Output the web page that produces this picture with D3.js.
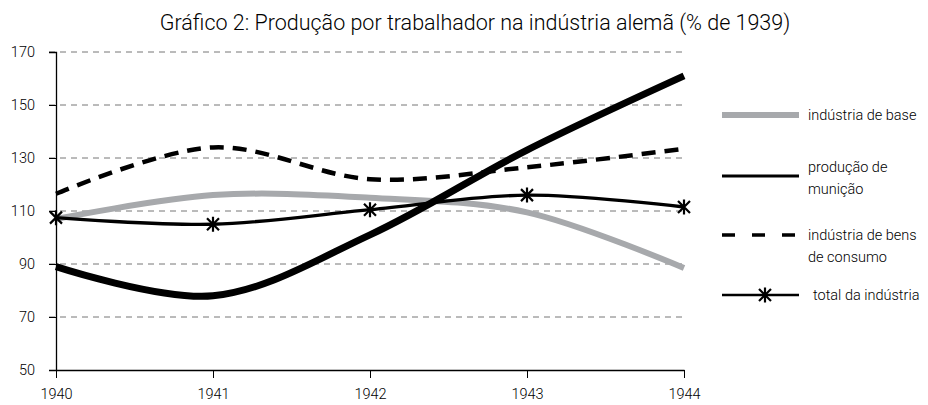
<!DOCTYPE html>
<html>
<head>
<meta charset="utf-8">
<script src="https://cdn.jsdelivr.net/npm/d3@7"></script>
<style>
  body { margin: 0; background: #fff; }
  text { font-family: Roboto, "Liberation Sans", sans-serif; font-weight: 300; fill: #000; }
</style>
</head>
<body>
<div id="chart"></div>
<script>
// data
const years = [1940, 1941, 1942, 1943, 1944];
const industriaBase = [107, 116, 115, 109.5, 88.5];
const producaoMunicao = [89, 78, 101, 133, 161];
const bensConsumo = [116.5, 134, 122, 126.5, 133.5];
const totalIndustria = [107.5, 105, 110.5, 116, 111.5];
const yTicks = [50, 70, 90, 110, 130, 150, 170];
const title = 'Gráfico 2: Produção por trabalhador na indústria alemã (% de 1939)';

const width = 928, height = 405;
const margin = {top: 52, right: 244, bottom: 35, left: 56};

const svg = d3.select('#chart').append('svg')
  .attr('width', width)
  .attr('height', height);

const x = d3.scaleLinear().domain([1940, 1944]).range([margin.left, width - margin.right]);
const y = d3.scaleLinear().domain([50, 170]).range([height - margin.bottom, margin.top]);

svg.append('text')
  .attr('x', 475)
  .attr('y', 30)
  .attr('text-anchor', 'middle')
  .style('font-size', '21.5px')
  .text(title);

// dashed grid lines
svg.append('g')
  .selectAll('line')
  .data(yTicks.filter(d => d > 50))
  .enter().append('line')
  .attr('x1', margin.left - 7)
  .attr('x2', x(1944))
  .attr('y1', d => y(d))
  .attr('y2', d => y(d))
  .attr('stroke', '#777')
  .attr('stroke-width', 1)
  .attr('stroke-dasharray', '6,5');

// y axis
const yAxis = svg.append('g')
  .attr('transform', `translate(${margin.left},0)`)
  .call(d3.axisLeft(y).tickValues(yTicks).tickSize(7).tickPadding(14));
yAxis.select('.domain').attr('stroke', '#000').attr('stroke-width', 1.3);
yAxis.selectAll('.tick line').attr('stroke', '#000');
yAxis.selectAll('text').style('font-size', '14.5px').attr('fill', '#000');

// x axis
const xAxis = svg.append('g')
  .attr('transform', `translate(0,${y(50)})`)
  .call(d3.axisBottom(x).tickValues(years).tickFormat(d3.format('d')).tickSize(8).tickPadding(11).tickSizeOuter(0));
xAxis.select('.domain').attr('stroke', '#000').attr('stroke-width', 1.3);
xAxis.selectAll('.tick line').attr('stroke', '#000');
xAxis.selectAll('text').style('font-size', '14.5px').attr('fill', '#000');

const line = d3.line()
  .x((d, i) => x(years[i]))
  .y(d => y(d))
  .curve(d3.curveCatmullRom.alpha(0.5));

const series = [
  {name: 'indústria de base', values: industriaBase, color: '#a7a9ac', width: 6, dash: null},
  {name: 'bens de consumo', values: bensConsumo, color: '#000', width: 4.5, dash: '14,9'},
  {name: 'produção de munição', values: producaoMunicao, color: '#000', width: 7, dash: null},
  {name: 'total da indústria', values: totalIndustria, color: '#000', width: 3.4, dash: null}
];

svg.append('g')
  .selectAll('path')
  .data(series)
  .enter().append('path')
  .attr('d', d => line(d.values))
  .attr('fill', 'none')
  .attr('stroke', d => d.color)
  .attr('stroke-width', d => d.width)
  .attr('stroke-dasharray', d => d.dash);

const star = 'M-6,-6L6,6M-6,6L6,-6M0,-7.5L0,7.5';

svg.append('g')
  .selectAll('path')
  .data(totalIndustria)
  .enter().append('path')
  .attr('d', star)
  .attr('transform', (d, i) => `translate(${x(years[i])},${y(d)})`)
  .attr('fill', 'none')
  .attr('stroke', '#000')
  .attr('stroke-width', 2.2);

// legend
const legend = [
  {lines: ['indústria de base'], ly: 115, color: '#a7a9ac', width: 6, dash: null, ty: 115},
  {lines: ['produção de', 'munição'], ly: 176, color: '#000', width: 3, dash: null, ty: 167},
  {lines: ['indústria de bens', 'de consumo'], ly: 235, color: '#000', width: 3.5, dash: '13,17', ty: 235},
  {lines: ['total da indústria'], ly: 295, color: '#000', width: 2.5, dash: null, ty: 295, marker: true}
];

const lg = svg.append('g');
legend.forEach(l => {
  lg.append('line')
    .attr('x1', 722).attr('x2', 799)
    .attr('y1', l.ly).attr('y2', l.ly)
    .attr('stroke', l.color)
    .attr('stroke-width', l.width)
    .attr('stroke-dasharray', l.dash);
  if (l.marker) {
    lg.append('path')
      .attr('d', star)
      .attr('transform', `translate(765,${l.ly})`)
      .attr('fill', 'none')
      .attr('stroke', '#000')
      .attr('stroke-width', 2.2);
  }
  l.lines.forEach((t, i) => {
    lg.append('text')
      .attr('x', l.marker ? 813 : 808)
      .attr('y', l.ty + i * 22)
      .attr('dy', '0.35em')
      .style('font-size', '14.5px')
      .text(t);
  });
});
</script>
</body>
</html>
